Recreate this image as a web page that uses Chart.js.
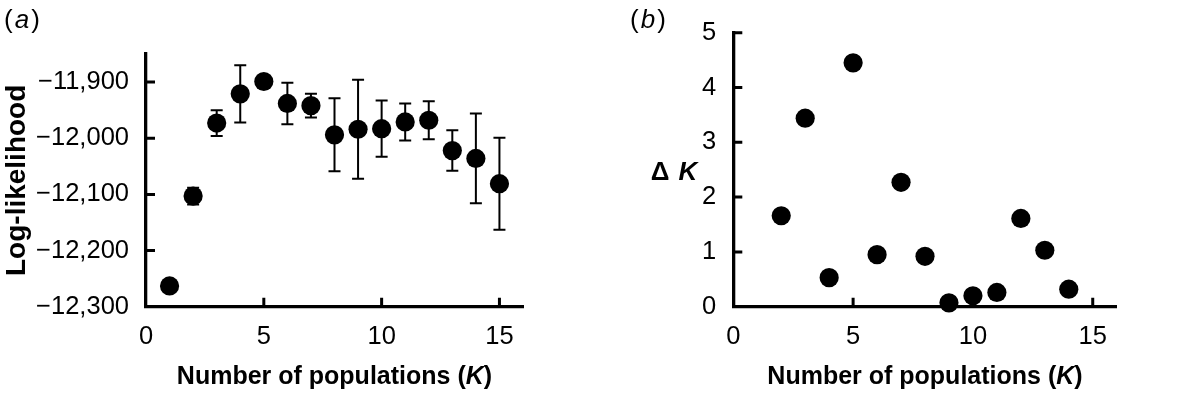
<!DOCTYPE html>
<html>
<head>
<meta charset="utf-8">
<script src="https://cdn.jsdelivr.net/npm/chart.js@4.4.1/dist/chart.umd.min.js"></script>
<style>
  html, body { margin: 0; padding: 0; background: #fff; }
  #wrap { position: relative; width: 1181px; height: 394px; overflow: hidden; font-family: "Liberation Sans", Arial, sans-serif; color: #000; }
  canvas { position: absolute; top: 0; }
  #cA { left: 0; }
  #cB { left: 590px; }
  .lbl { position: absolute; white-space: nowrap; line-height: 30px; }
  .panel { font-size: 26px; letter-spacing: 2px; top: 4px; }
  .xt { font-size: 25px; font-weight: bold; width: 400px; text-align: center; top: 360px; }
  .dk { font-size: 26px; font-weight: bold; width: 100px; text-align: center; top: 156px; left: 624px; word-spacing: 2px; }
</style>
</head>
<body>
<div id="wrap">
  <canvas id="cA" width="590" height="394"></canvas>
  <canvas id="cB" width="591" height="394"></canvas>
  <div class="lbl panel" style="left:4px;">(<i>a</i>)</div>
  <div class="lbl panel" style="left:630px;">(<i>b</i>)</div>
  <div class="lbl xt" style="left:134.5px;">Number of populations (<i>K</i>)</div>
  <div class="lbl xt" style="left:725px;">Number of populations (<i>K</i>)</div>
  <div class="lbl dk">Δ <i>K</i></div>
</div>
<script>
// ---- Data ----
const kValuesA = [1, 2, 3, 4, 5, 6, 7, 8, 9, 10, 11, 12, 13, 14, 15];
const logLikelihood = [-12263, -12103, -11973, -11921, -11899, -11938, -11942, -11994, -11984, -11983, -11971, -11968, -12022, -12036, -12081];
const logLikelihoodSD = [3, 15, 23, 51, 3, 37, 21, 65, 88, 50, 33, 34, 36, 80, 82];

const kValuesB = [2, 3, 4, 5, 6, 7, 8, 9, 10, 11, 12, 13, 14];
const deltaK = [1.66, 3.44, 0.53, 4.45, 0.95, 2.27, 0.92, 0.07, 0.20, 0.26, 1.61, 1.03, 0.32];

const xTickValues = [0, 5, 10, 15];
const yTickValuesA = [-12300, -12200, -12100, -12000, -11900];
const yTickValuesB = [0, 1, 2, 3, 4, 5];

// ---- Helpers ----
const FONT = '"Liberation Sans", Arial, sans-serif';
const tickFont = { family: FONT, size: 25.5 };

function fmtNeg(v) {
  const s = String(Math.abs(v)).replace(/\B(?=(\d{3})+(?!\d))/g, ',');
  return (v < 0 ? '\u2212' : '') + s;
}

const inwardTicks = {
  id: 'inwardTicks',
  afterDatasetsDraw(chart) {
    const { ctx, chartArea } = chart;
    const xs = chart.scales.x, ys = chart.scales.y;
    ctx.save();
    ctx.strokeStyle = '#000';
    ctx.lineWidth = 3;
    ctx.beginPath();
    xs.ticks.forEach(t => {
      const px = xs.getPixelForValue(t.value);
      if (Math.abs(px - chartArea.left) < 2) return;
      ctx.moveTo(px, chartArea.bottom);
      ctx.lineTo(px, chartArea.bottom - 9);
    });
    ys.ticks.forEach(t => {
      const py = ys.getPixelForValue(t.value);
      if (Math.abs(py - chartArea.bottom) < 2) return;
      ctx.moveTo(chartArea.left, py);
      ctx.lineTo(chartArea.left + 9, py);
    });
    ctx.stroke();
    ctx.restore();
  }
};

const errorBars = {
  id: 'errorBars',
  beforeDatasetsDraw(chart) {
    const { ctx } = chart;
    const xs = chart.scales.x, ys = chart.scales.y;
    chart.data.datasets.forEach(ds => {
      if (!ds.errors) return;
      ctx.save();
      ctx.strokeStyle = '#000';
      ctx.lineWidth = 2;
      ctx.beginPath();
      ds.data.forEach((p, i) => {
        const e = ds.errors[i];
        const px = xs.getPixelForValue(p.x);
        const yt = ys.getPixelForValue(p.y + e);
        const yb = ys.getPixelForValue(p.y - e);
        ctx.moveTo(px, yt); ctx.lineTo(px, yb);
        ctx.moveTo(px - 6, yt); ctx.lineTo(px + 6, yt);
        ctx.moveTo(px - 6, yb); ctx.lineTo(px + 6, yb);
      });
      ctx.stroke();
      ctx.restore();
    });
  }
};

function xScale() {
  return {
    type: 'linear', min: 0, max: 16,
    afterBuildTicks: s => { s.ticks = xTickValues.map(v => ({ value: v })); },
    afterFit: s => { s.height = 87.3; },
    ticks: { font: tickFont, color: '#000', padding: 15, maxRotation: 0 },
    grid: { display: false, drawTicks: false },
    border: { display: true, width: 3.3, color: '#000' }
  };
}

const pointStyle = {
  showLine: false, pointRadius: 9.6, pointHoverRadius: 9.6,
  pointBackgroundColor: '#000', pointBorderWidth: 0, borderColor: '#000', clip: false
};

const common = {
  responsive: false,
  animation: false,
  events: [],
  plugins: { legend: { display: false }, tooltip: { enabled: false } }
};

// ---- Chart (a) ----
new Chart(document.getElementById('cA'), {
  type: 'scatter',
  data: {
    datasets: [Object.assign({
      data: kValuesA.map((k, i) => ({ x: k, y: logLikelihood[i] })),
      errors: logLikelihoodSD
    }, pointStyle)]
  },
  options: Object.assign({}, common, {
    layout: { padding: { top: 54, right: 67, left: 0, bottom: 0 } },
    scales: {
      x: xScale(),
      y: {
        type: 'linear', min: -12300, max: -11850,
        afterBuildTicks: s => { s.ticks = yTickValuesA.map(v => ({ value: v })); },
        afterFit: s => { s.width = 146; },
        ticks: { font: tickFont, color: '#000', padding: 17, callback: v => fmtNeg(v) },
        grid: { display: false, drawTicks: false },
        border: { display: true, width: 3.3, color: '#000' },
        title: {
          display: true, text: 'Log-likelihood', color: '#000',
          font: { family: FONT, size: 28, weight: 'bold' },
          padding: { top: 0, bottom: 0 }
        }
      }
    }
  }),
  plugins: [errorBars, inwardTicks]
});

// ---- Chart (b) ----
new Chart(document.getElementById('cB'), {
  type: 'scatter',
  data: {
    datasets: [Object.assign({
      data: kValuesB.map((k, i) => ({ x: k, y: deltaK[i] }))
    }, pointStyle)]
  },
  options: Object.assign({}, common, {
    layout: { padding: { top: 32.7, right: 64.3, left: 0, bottom: 0 } },
    scales: {
      x: xScale(),
      y: {
        type: 'linear', min: 0, max: 5,
        afterBuildTicks: s => { s.ticks = yTickValuesB.map(v => ({ value: v })); },
        afterFit: s => { s.width = 143.3; },
        ticks: { font: tickFont, color: '#000', padding: 17 },
        grid: { display: false, drawTicks: false },
        border: { display: true, width: 3.3, color: '#000' }
      }
    }
  }),
  plugins: [inwardTicks]
});
</script>
</body>
</html>
